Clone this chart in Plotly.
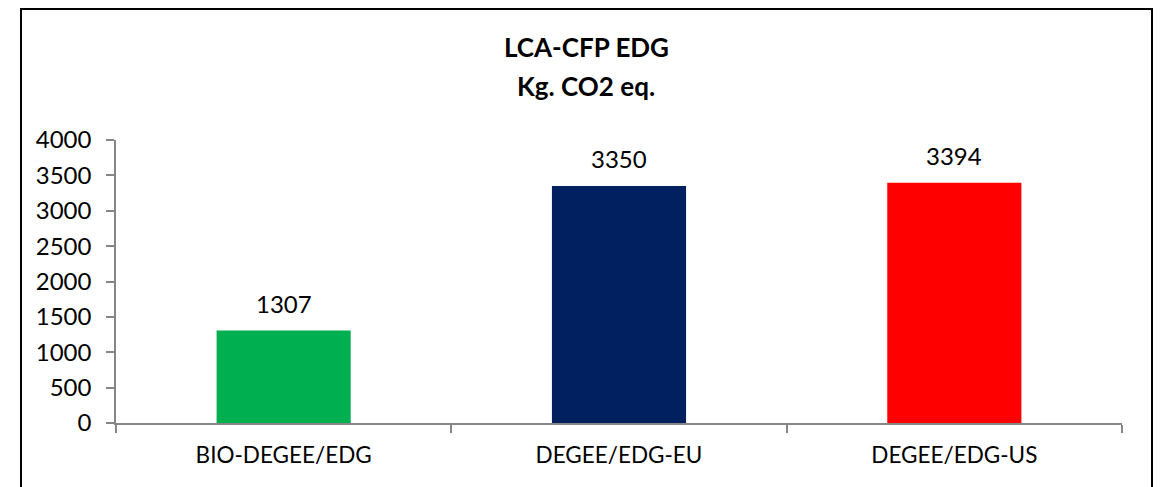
import plotly.graph_objects as go

categories = ["BIO-DEGEE/EDG", "DEGEE/EDG-EU", "DEGEE/EDG-US"]
values = [1307, 3350, 3394]
colors = ["#00B050", "#002060", "#FF0000"]
title_lines = ["LCA-CFP EDG", "Kg. CO2 eq."]
y_ticks = [0, 500, 1000, 1500, 2000, 2500, 3000, 3500, 4000]

OFF = 8  # page body margin
W, H = 1163 - OFF, 487 - OFF
L, R, T, B = 116 - OFF, 1122 - OFF, 140 - OFF, 423 - OFF
FONT = "Lato"
AX = "#868686"

fig = go.Figure(go.Bar(
    x=categories, y=values, marker=dict(color=colors, line=dict(width=0)),
    width=0.4, hoverinfo="skip",
))

for c, v in zip(categories, values):
    fig.add_annotation(x=c, y=v, text=str(v), showarrow=False, yanchor="bottom",
                       yshift=11, font=dict(family=FONT, size=24, color="#000"))

pw = R - L
ph = B - T
cx = (586 - OFF - L) / pw
fig.add_annotation(xref="paper", yref="paper", x=cx, y=(B - (58 - OFF)) / ph,
                   text="<b>" + title_lines[0] + "</b>", showarrow=False,
                   yanchor="bottom", yshift=-7,
                   font=dict(family=FONT, size=26, color="#000"))
fig.add_annotation(xref="paper", yref="paper", x=cx, y=(B - (97 - OFF)) / ph,
                   text="<b>" + title_lines[1] + "</b>", showarrow=False,
                   yanchor="bottom", yshift=-7,
                   font=dict(family=FONT, size=26, color="#000"))

fig.add_shape(type="rect", xref="paper", yref="paper",
              x0=(21 - OFF - L) / pw, x1=(1152 - OFF - L) / pw,
              y0=(B - 495) / ph, y1=(B - 1) / ph,
              line=dict(color="#000", width=2), fillcolor="rgba(0,0,0,0)", layer="below")

fig.update_layout(
    width=W, height=H,
    margin=dict(l=L, r=W - R, t=T, b=H - B, pad=0),
    paper_bgcolor="white", plot_bgcolor="white",
    showlegend=False, bargap=0.6,
    font=dict(family=FONT, size=22, color="#000"),
    xaxis=dict(
        showline=True, linecolor=AX, linewidth=1.5,
        ticks="outside", tickson="boundaries", ticklen=8, tickcolor=AX, tickwidth=1.5,
        tickfont=dict(family=FONT, size=22.5, color="#000"),
        showgrid=False, zeroline=False, fixedrange=True, ticklabelstandoff=11,
    ),
    yaxis=dict(
        range=[0, 4000], tickvals=y_ticks, showline=True, linecolor=AX, linewidth=1.5,
        ticks="outside", ticklen=8, tickcolor=AX, tickwidth=1.5,
        tickfont=dict(family=FONT, size=24, color="#000"),
        showgrid=False, zeroline=False, fixedrange=True, ticklabelstandoff=10,
    ),
)

fig.write_html("out.html")
